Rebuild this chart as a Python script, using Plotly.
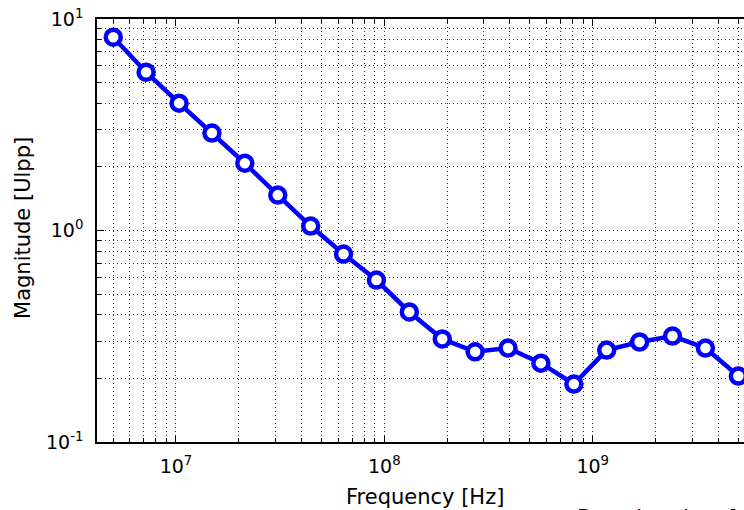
import plotly.graph_objects as go

# Data
freq_hz = [5.0e6, 7.19e6, 1.035e7, 1.488e7, 2.14e7, 3.08e7, 4.43e7, 6.37e7, 9.16e7,
           1.318e8, 1.896e8, 2.727e8, 3.923e8, 5.64e8, 8.12e8, 1.167e9, 1.679e9,
           2.415e9, 3.474e9, 5.0e9]
magnitude = [8.2, 5.6, 4.0, 2.89, 2.08, 1.47, 1.05, 0.774, 0.583, 0.412, 0.307,
             0.267, 0.278, 0.236, 0.188, 0.272, 0.297, 0.317, 0.278, 0.205]

x_major = [1e7, 1e8, 1e9]
x_major_text = ["10<sup>7</sup>", "10<sup>8</sup>", "10<sup>9</sup>"]
y_major = [0.1, 1, 10]
y_major_text = ["10<sup>-1</sup>", "10<sup>0</sup>", "10<sup>1</sup>"]

x_minor = [m * 10 ** e for e in range(6, 10) for m in range(2, 10)]
y_minor = [m * 10 ** e for e in range(-1, 1) for m in range(2, 10)]

GRID = "#333333"
DASH = "1px,3px"

fig = go.Figure()
fig.add_trace(go.Scatter(
    x=freq_hz, y=magnitude, mode="lines+markers",
    line=dict(color="#0000ff", width=4.5),
    marker=dict(symbol="circle", size=15, color="white",
                line=dict(color="#0000ff", width=4.5)),
    showlegend=False,
))

font_family = "DejaVu Sans"
fig.update_layout(
    width=744, height=510,
    margin=dict(l=97, r=0, t=19, b=68),
    paper_bgcolor="white", plot_bgcolor="white",
    font=dict(family=font_family, color="black", size=19),
    xaxis=dict(
        type="log", range=[6.621, 9.726],
        tickmode="array", tickvals=x_major, ticktext=x_major_text,
        ticks="inside", ticklen=7, tickwidth=1, tickcolor="black",
        showline=True, linecolor="black", linewidth=1.5, mirror="ticks",
        showgrid=True, gridcolor=GRID, gridwidth=1, griddash=DASH,
        zeroline=False, ticklabelstandoff=6,
        tickfont=dict(size=19),
        minor=dict(tickvals=x_minor, ticks="inside", ticklen=4, tickcolor="black",
                   showgrid=True, gridcolor=GRID, gridwidth=1, griddash=DASH),
    ),
    yaxis=dict(
        type="log", range=[-1, 1],
        tickmode="array", tickvals=y_major, ticktext=y_major_text,
        ticks="inside", ticklen=7, tickwidth=1, tickcolor="black",
        showline=True, linecolor="black", linewidth=1.5, mirror=False,
        showgrid=True, gridcolor=GRID, gridwidth=1, griddash=DASH,
        zeroline=False, ticklabelstandoff=8, ticklabeloverflow="allow",
        tickfont=dict(size=19),
        minor=dict(tickvals=y_minor, ticks="inside", ticklen=4, tickcolor="black",
                   showgrid=True, gridcolor=GRID, gridwidth=1, griddash=DASH),
    ),
    annotations=[
        dict(text="Frequency [Hz]", xref="paper", yref="paper", x=0.507, y=0,
             xanchor="center", yanchor="middle", yshift=-55, showarrow=False,
             font=dict(size=21, family=font_family)),
        dict(text="Magnitude [Ulpp]", xref="paper", yref="paper", x=0, y=0.506,
             xanchor="center", yanchor="middle", xshift=-74, textangle=-90,
             showarrow=False, font=dict(size=21, family=font_family)),
        dict(text="Duration time [ms]", xref="paper", yref="paper", x=0.739, y=0,
             xanchor="left", yanchor="top", yshift=-62, showarrow=False,
             font=dict(size=21, family=font_family)),
    ],
)

fig.write_html(
    "out.html",
    config={"displayModeBar": False},
    post_script="document.body.style.margin='0';"
                "document.documentElement.style.overflow='hidden';"
                "document.body.style.overflow='hidden';",
)
